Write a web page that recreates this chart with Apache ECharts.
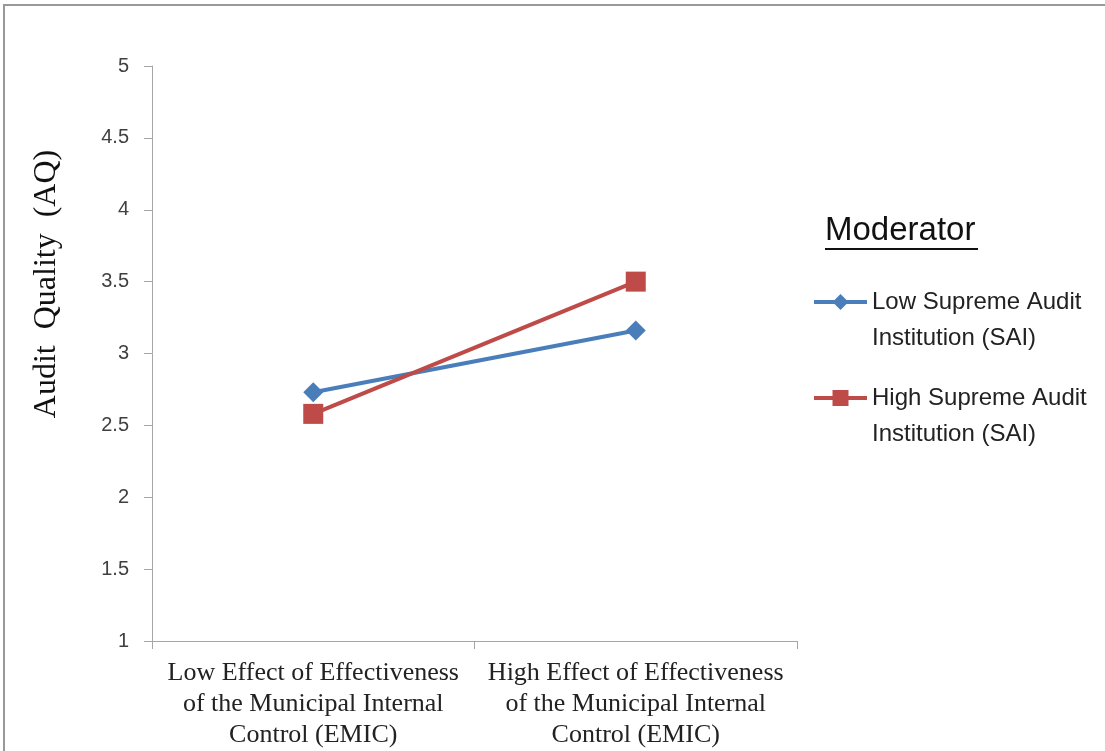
<!DOCTYPE html>
<html>
<head>
<meta charset="utf-8">
<script src="https://cdn.jsdelivr.net/npm/echarts@6/dist/echarts.min.js"></script>
<style>
html,body{margin:0;padding:0;background:#fff;}
#chart{width:1105px;height:751px;}
</style>
</head>
<body>
<div id="chart"></div>
<script>
var categories = [
  "Low Effect of Effectiveness\nof the Municipal Internal\nControl (EMIC)",
  "High Effect of Effectiveness\nof the Municipal Internal\nControl (EMIC)"
];
var seriesNames = ["Low Supreme Audit Institution (SAI)", "High Supreme Audit Institution (SAI)"];
var lowSAI = [2.73, 3.16];
var highSAI = [2.58, 3.50];
var yTitle = "Audit  Quality  (AQ)";
var legendTitle = "Moderator";

var chart = echarts.init(document.getElementById('chart'));
var axisGray = '#a6a6a6';
function legendFor(name, top) {
  return {
    orient: 'vertical',
    left: 812,
    top: top,
    padding: 0,
    itemWidth: 53,
    itemHeight: 20,
    data: [name],
    lineStyle: { width: 4 },
    formatter: function (n) { return '\n' + n.replace(' Audit ', ' Audit\n'); },
    textStyle: { fontFamily: 'Liberation Sans', fontSize: 24, lineHeight: 36, color: '#222' }
  };
}
chart.setOption({
  animation: false,
  backgroundColor: '#fff',
  grid: { left: 152, top: 66, right: 308, bottom: 110, containLabel: false },
  xAxis: {
    type: 'category',
    data: categories,
    boundaryGap: true,
    axisLine: { lineStyle: { color: axisGray, width: 1 } },
    axisTick: { show: true, length: 8, lineStyle: { color: axisGray } },
    axisLabel: {
      interval: 0,
      margin: 17,
      fontFamily: 'Liberation Serif',
      fontSize: 26,
      lineHeight: 31,
      color: '#222'
    },
    splitLine: { show: false }
  },
  yAxis: {
    type: 'value',
    min: 1, max: 5, interval: 0.5,
    axisLine: { show: true, lineStyle: { color: axisGray, width: 1 } },
    axisTick: { show: true, length: 8, lineStyle: { color: axisGray } },
    axisLabel: { margin: 23, fontFamily: 'Liberation Sans', fontSize: 20, color: '#404040' },
    splitLine: { show: false }
  },
  legend: [legendFor(seriesNames[0], 248), legendFor(seriesNames[1], 344)],
  graphic: [
    { type: 'rect', shape: { x: 4, y: 5, width: 1200, height: 800 }, style: { fill: 'none', stroke: '#999', lineWidth: 2 }, silent: true },
    { type: 'text', x: 47, y: 284, rotation: Math.PI / 2, style: { text: yTitle, font: '32px "Liberation Serif"', fill: '#111', textAlign: 'center', textVerticalAlign: 'middle' } },
    { type: 'text', x: 825, y: 231, style: { text: legendTitle, font: '33px "Liberation Sans"', fill: '#111', textAlign: 'left', textVerticalAlign: 'middle' } },
    { type: 'line', shape: { x1: 825, y1: 249, x2: 978, y2: 249 }, style: { stroke: '#111', lineWidth: 2 } }
  ],
  series: [
    {
      name: seriesNames[0], type: 'line', data: lowSAI,
      symbol: 'diamond', symbolSize: 20,
      lineStyle: { color: '#4a7ebb', width: 4 },
      itemStyle: { color: '#4a7ebb' }
    },
    {
      name: seriesNames[1], type: 'line', data: highSAI,
      symbol: 'rect', symbolSize: 20,
      lineStyle: { color: '#be4b48', width: 4 },
      itemStyle: { color: '#be4b48' }
    }
  ]
});
</script>
</body>
</html>
